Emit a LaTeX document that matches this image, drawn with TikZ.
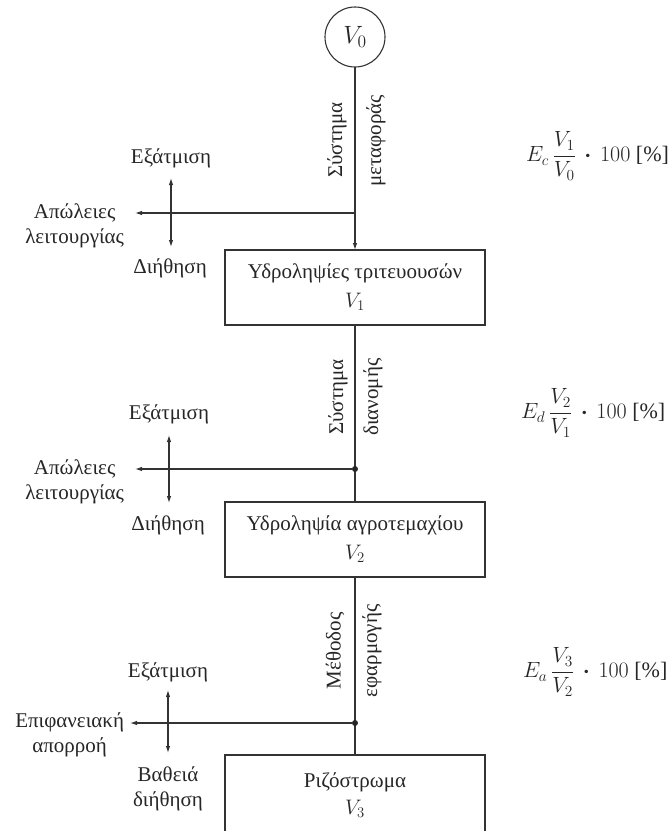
\RequirePackage{fix-cm}
\documentclass[tikz,border=0pt]{standalone}
\usepackage{amsmath}
\usepackage{graphicx}
\usepackage{fontspec}
\setmainfont{Liberation Serif}
\usetikzlibrary{arrows.meta}
\begin{document}
\begin{tikzpicture}[x=1pt,y=-1pt,
  every node/.style={inner sep=0pt, outer sep=0pt, text=black!85},
  txt/.style={font=\fontsize{21}{25}\selectfont, align=center},
  boxn/.style={draw=black!80, line width=1.1pt, minimum width=260pt, minimum height=75pt, align=center, font=\fontsize{21}{25}\selectfont},
  side/.style={font=\fontsize{21}{25}\selectfont, rotate=90},
  formula/.style={font=\fontsize{21}{25}\selectfont, anchor=west},
  flow/.style={draw=black!80, line width=1.1pt},
  arr/.style={flow, -{Latex[length=7pt,width=4.5pt]}},
  darr/.style={flow, {Latex[length=7pt,width=4.5pt]}-{Latex[length=7pt,width=4.5pt]}},
  jdot/.style={circle, fill=black!85, minimum size=6pt}
]
\useasboundingbox (0,0) rectangle (672,831);

% source
\node[draw=black!80, line width=1.1pt, circle, minimum size=60pt, font=\fontsize{20}{24}\selectfont] (v0) at (355,37) {\scalebox{1.25}{$V_0$}};

% boxes
\node[boxn] (b1) at (355,287.5) {Υδροληψίες τριτευουσών\\[4pt]$V_1$};
\node[boxn] (b2) at (355,539.5) {Υδροληψία αγροτεμαχίου\\[4pt]$V_2$};
\node[boxn, minimum height=80pt] (b3) at (355,795) {Ριζόστρωμα\\[2pt]$V_3$};

% main flow
\draw[arr] (v0) -- (b1);
\draw[flow] (b1) -- (b2);
\draw[flow] (b2) -- (b3);

% side labels
\node[side] (s1a) at (337,140) {Σύστημα};
\node[side] (s1b) at (376,141) {μεταφοράς};
\node[side] (s2a) at (338,397) {Σύστημα};
\node[side] (s2b) at (373,397) {διανομής};
\node[side] (s3a) at (335,651) {Μέθοδος};
\node[side] (s3b) at (372,651) {εφαρμογής};

% junction points
\coordinate (j1) at (355,213);
\node[jdot] (j2) at (355,469) {};
\node[jdot] (j3) at (355,723) {};

% section 1 losses
\node[txt] (e1) at (171,158) {Εξάτμιση};
\node[txt, anchor=east] (l1) at (124,226) {Απώλειες\\λειτουργίας};
\node[txt] (d1) at (170,268) {Διήθηση};
\coordinate (h1) at (135,213);
\coordinate (u1) at (171,178);
\coordinate (w1) at (171,247);
\draw[arr] (j1) -- (h1);
\draw[darr] (u1) -- (w1);

% section 2 losses
\node[txt] (e2) at (169,414) {Εξάτμιση};
\node[txt, anchor=east] (l2) at (124,482) {Απώλειες\\λειτουργίας};
\node[txt] (d2) at (168,525) {Διήθηση};
\coordinate (h2) at (135,469);
\coordinate (u2) at (169,435);
\coordinate (w2) at (169,503);
\draw[arr] (j2) -- (h2);
\draw[darr] (u2) -- (w2);

% section 3 losses
\node[txt] (e3) at (168,672) {Εξάτμιση};
\node[txt, anchor=east] (l3) at (124,735) {Επιφανειακή\\απορροή};
\node[txt] (d3) at (168,789) {Βαθειά\\διήθηση};
\coordinate (h3) at (130,723);
\coordinate (u3) at (168,690);
\coordinate (w3) at (168,753);
\draw[arr] (j3) -- (h3);
\draw[darr] (u3) -- (w3);

% efficiencies
\node[formula] (fc) at (526,156) {\scalebox{1.05}{$E_c\,\dfrac{V_1}{V_0}\,\boldsymbol{\cdot}\,100$ [\%]}};
\node[formula] (fd) at (521,413) {\scalebox{1.05}{$E_d\,\dfrac{V_2}{V_1}\,\boldsymbol{\cdot}\,100$ [\%]}};
\node[formula] (fa) at (523,672) {\scalebox{1.05}{$E_a\,\dfrac{V_3}{V_2}\,\boldsymbol{\cdot}\,100$ [\%]}};
\end{tikzpicture}
\end{document}
